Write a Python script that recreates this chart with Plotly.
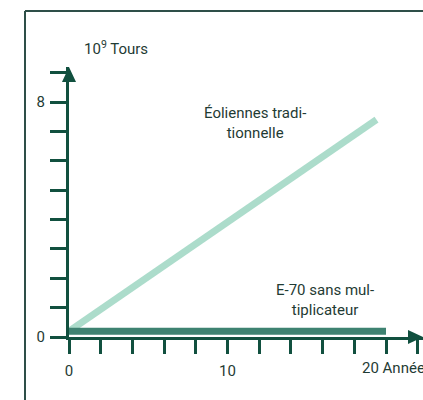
import plotly.graph_objects as go

years = [0, 19.4]
traditional = [0.2, 7.4]
e70_years = [0, 20]
e70 = [0.2, 0.2]

x_major = [0, 10]
x_major_text = ["0", "10"]
x_minor_step = 2
y_major = [0, 8]
y_major_text = ["0", "8"]
y_minor_step = 1

W, H = 423, 400
DARK = "#11503f"
FRAME = "#2e4f48"
TXT = "#1f3b34"
FONT = "Roboto, sans-serif"
FS = 15

fig = go.Figure()
fig.add_trace(go.Scatter(x=years, y=traditional, mode="lines",
                         line=dict(color="#acdccb", width=7), cliponaxis=False,
                         hoverinfo="skip"))
fig.add_trace(go.Scatter(x=e70_years, y=e70, mode="lines",
                         line=dict(color="#3e8271", width=7), cliponaxis=False,
                         hoverinfo="skip"))

x0px, x20px = 69, 386
ppx = (x20px - x0px) / 20
y0px, y8px = 337, 102
ppy = (y0px - y8px) / 8
xtip, ytip = 423, 67

tick_common = dict(ticks="outside", tickwidth=3, tickcolor=DARK)
fig.update_layout(
    autosize=True, margin=dict(l=0, r=0, t=0, b=0, autoexpand=False),
    paper_bgcolor="white", plot_bgcolor="rgba(0,0,0,0)",
    showlegend=False,
    font=dict(family=FONT, size=FS, color=TXT),
    xaxis=dict(domain=[x0px / W, 1], range=[0, (xtip - x0px) / ppx],
               showgrid=False, zeroline=False, showline=True, linecolor=DARK, linewidth=3,
               ticklen=14, tickvals=x_major, ticktext=x_major_text, ticklabelstandoff=4,
               minor=dict(dtick=x_minor_step, tick0=0, ticklen=14, ticks="outside",
                          tickwidth=3, tickcolor=DARK, showgrid=False),
               tickfont=dict(family=FONT, size=FS, color=TXT), anchor="y", **tick_common),
    yaxis=dict(domain=[(H - y0px) / H, (H - ytip) / H], range=[0, (y0px - ytip) / ppy],
               showgrid=False, zeroline=False, showline=True, linecolor=DARK, linewidth=3,
               ticklen=16, tickvals=y_major, ticktext=y_major_text, ticklabelstandoff=2,
               minor=dict(dtick=y_minor_step, tick0=0, ticklen=16, ticks="outside",
                          tickwidth=3, tickcolor=DARK, showgrid=False),
               tickfont=dict(family=FONT, size=FS, color=TXT), anchor="x", **tick_common),
)

# frame: left and top edges only (the rest runs off the picture)
fl, ft = 25 / W, (H - 11) / H
fig.add_shape(type="line", xref="paper", yref="paper", x0=fl, x1=fl, y0=0, y1=ft,
              line=dict(color=FRAME, width=2), layer="below")
fig.add_shape(type="line", xref="paper", yref="paper", x0=fl, x1=1, y0=ft, y1=ft,
              line=dict(color=FRAME, width=2), layer="below")

# arrowheads
fig.add_shape(type="path", xref="paper", yref="paper", xsizemode="pixel", ysizemode="pixel",
              xanchor=x0px / W, yanchor=(H - ytip) / H,
              path="M -7,-15 L 7,-15 L 0,0 Z", fillcolor=DARK, line=dict(width=0))
fig.add_shape(type="path", xref="paper", yref="paper", xsizemode="pixel", ysizemode="pixel",
              xanchor=1.0, yanchor=(H - y0px) / H,
              path="M -15,-7 L -15,7 L 0,0 Z", fillcolor=DARK, line=dict(width=0))

fig.add_annotation(text="10<sup>9</sup> Tours", xref="paper", yref="paper",
                   x=82 / W, y=(H - 48) / H, xanchor="left", yanchor="middle",
                   showarrow=False)
fig.add_annotation(text="Éoliennes tradi-<br>tionnelle", xref="paper", yref="paper",
                   x=255 / W, y=(H - 123) / H, xanchor="center", yanchor="middle",
                   showarrow=False, align="center")
fig.add_annotation(text="E-70 sans mul-<br>tiplicateur", xref="paper", yref="paper",
                   x=325 / W, y=(H - 300) / H, xanchor="center", yanchor="middle",
                   showarrow=False, align="center")
fig.add_annotation(text="20 Années", x=20, y=0, xref="x", yref="y",
                   xanchor="left", yanchor="middle", xshift=-26, yshift=-31,
                   showarrow=False)

fig.write_html(
    "out.html",
    default_width="100vw", default_height="100vh",
    config={"displayModeBar": False, "staticPlot": True, "responsive": True},
    post_script=("document.documentElement.style.margin='0';"
                 "document.body.style.margin='0';"
                 "document.body.style.overflow='hidden';"
                 "document.documentElement.style.overflow='hidden';"),
)
